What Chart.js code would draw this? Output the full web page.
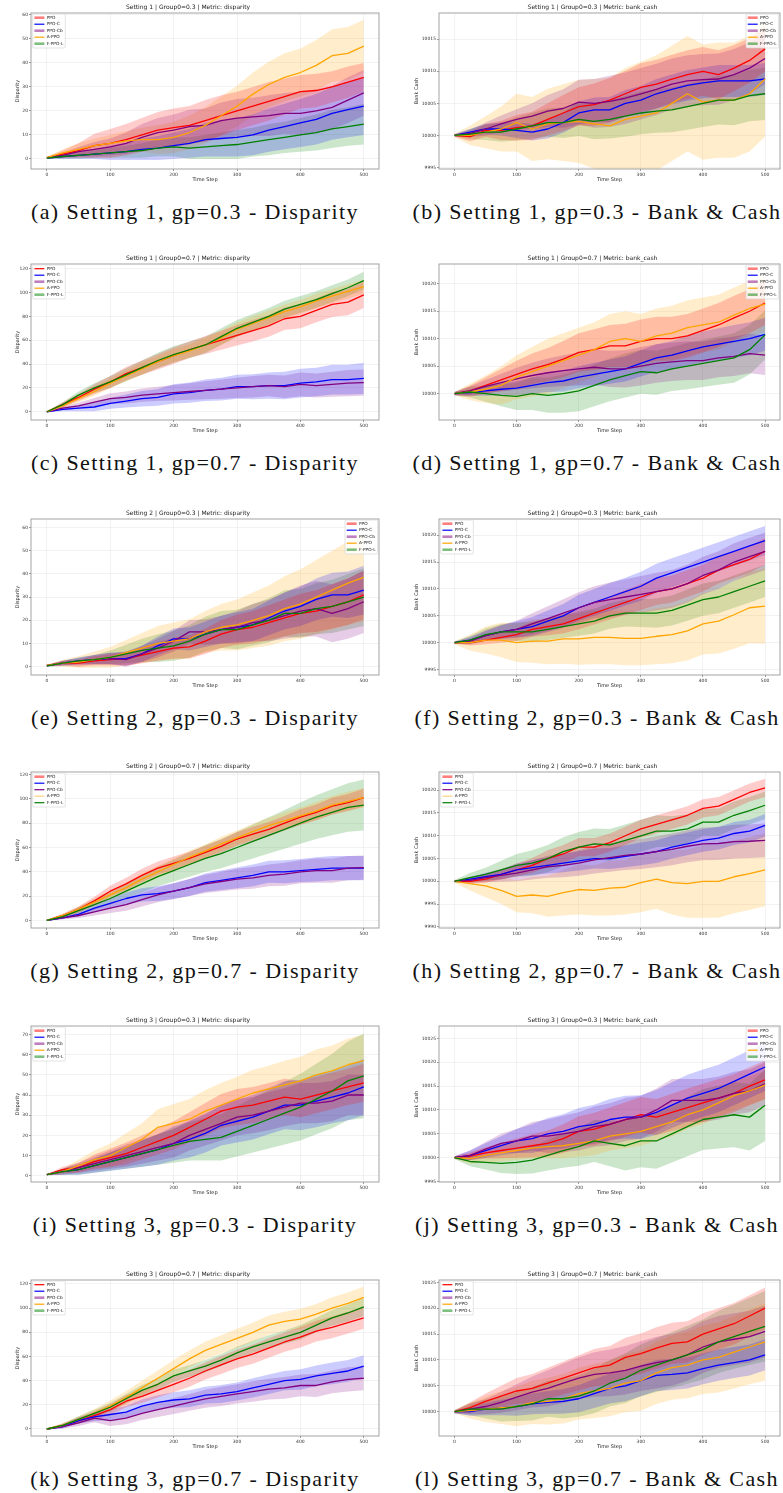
<!DOCTYPE html>
<html>
<head>
<meta charset="utf-8">
<title>Disparity and bank cash, settings 1-3</title>
<script src="https://cdn.jsdelivr.net/npm/chart.js@4.4.0/dist/chart.umd.min.js"></script>
<style>
  body { margin: 0; background: #fff; width: 783px; height: 1493px; position: relative; overflow: hidden; }
  canvas { position: absolute; }
  .cap { position: absolute; width: 390px; text-align: center; white-space: nowrap;
         font-family: "Liberation Serif", serif; font-size: 22px; line-height: 26px; letter-spacing: 1.4px; color: #111; }
</style>
</head>
<body>
<script>
const steps = [0,25,50,75,100,125,150,175,200,225,250,275,300,325,350,375,400,425,450,475,500];
const algos = ['PPO', 'PPO-C', 'PPO-Cb', 'A-PPO', 'F-PPO-L'];
const colors = ['#ff0000', '#0000ff', '#800080', '#ffa500', '#008000'];

const xTicks = [0,100,200,300,400,500];
const dispTicks60 = [0,10,20,30,40,50,60];
const dispTicks70 = [0,10,20,30,40,50,60,70];
const dispTicks120 = [0,20,40,60,80,100,120];
const cashTicksB = [9995,10000,10005,10010,10015];
const cashTicksD = [10000,10005,10010,10015,10020];
const cashTicksF = [9995,10000,10005,10010,10015,10020];
const cashTicksH = [9990,9995,10000,10005,10010,10015,10020];
const cashTicksJ = [9995,10000,10005,10010,10015,10020,10025];
const cashTicksL = [10000,10005,10010,10015,10020,10025];

// order of rows in each array: PPO, PPO-C, PPO-Cb, A-PPO, F-PPO-L
const s1g3DispMean = [
  [0.5,2,3.5,5.5,6.5,8,10,12,13,14,16,18,20,22,24,26,28,28.5,30,32,34],
  [0.3,1,1.5,2,2.5,3,4,4.5,5.5,6.5,8,8.5,9,10,12,13.5,15,16.5,19,20.5,22],
  [0.5,1.5,3,4,5,6.5,9,11,12,13.5,14,16,17,17.5,18,19,19,20,21.5,24.5,27.5],
  [0.5,2.5,4,5.5,6.5,7.5,8,8,9,11,14,18,22,27,31,34,36,39,43,44,47],
  [0.3,1,1.5,2,2.5,3,3.5,4.5,5,4.5,5,5.5,6,7,8,9,10,11,12.5,13.5,14.5]
];
const s1g3DispSd = [
  [0.3,1.5,3,5,6,6.5,7,7.5,8,8,8.5,8.5,8,8,8,7.5,7,7,6.5,6.5,6],
  [0.3,1,1.5,2,3,3.5,4.5,5,5.5,6,7,7.5,8,8.5,9,9.5,10,10.5,11,11.5,12],
  [0.3,1,2,3,3.5,4.5,5.5,6,6.5,7,7,7.5,8,8,8.5,8.5,9,9,9,9.5,9.5],
  [0.3,1.5,2.5,3,3.5,4,5,6,6.5,7,7.5,8,8.5,9,9.5,10,10,10.5,11,11,11],
  [0.2,0.8,1.2,1.5,2,2.5,3,3.5,4,4.5,5,5.5,6,6,6.5,6.5,7,7.5,8,8,8.5]
];
const s1g3CashMean = [
  [10000,9999.8,10000.8,10000.8,10001.2,10001.5,10002.5,10003.5,10004.5,10004.8,10005.5,10006.5,10007.5,10008,10008.8,10009.5,10010,10009.5,10010.5,10011.7,10013.5],
  [10000,10000.5,10001,10001,10000.8,10000.5,10001,10002,10003.5,10004,10004,10005,10005.5,10006.5,10007.2,10007.8,10008.2,10008.5,10008.5,10008.5,10008.8],
  [10000,10000.3,10001,10001.8,10002.5,10003,10003.8,10004.2,10005.2,10005,10005.3,10005.8,10006.5,10007.2,10008,10008.5,10008.7,10008.8,10009.5,10010.5,10012],
  [10000,10000,10000.5,10001,10002,10001,10001.8,10002,10002.2,10001.8,10001.5,10002.5,10003,10003.5,10005,10006.5,10005.2,10005.5,10005.5,10006.5,10008.8],
  [10000,10000.2,10000.5,10000.5,10001,10001.5,10002,10002,10002.5,10002.2,10002.5,10003,10003.5,10003.8,10004,10004.5,10005,10005.5,10005.5,10006.2,10006.5]
];
const s1g3CashSd = [
  [0.2,0.7,1,1.5,2,2.2,2.5,2.8,3,3.3,3.5,3.6,3.8,3.8,3.8,3.8,3.8,3.8,3.6,3.5,3.5],
  [0.2,0.5,0.8,1,1.2,1.3,1.5,1.6,1.8,1.9,2,2.1,2.2,2.3,2.3,2.4,2.4,2.5,2.5,2.5,2.5],
  [0.2,0.6,1,1.3,1.6,2,2.5,3,3.5,3.8,4,4,4,4,4,4,4,4,4,4,4],
  [0.3,1.5,2.5,3.5,4.5,5,5.5,6,6.5,7,7.5,8,8.5,9,9,9,9,9,9,9,9],
  [0.2,0.8,1.2,1.5,1.8,2,2.2,2.4,2.6,2.8,3,3.2,3.3,3.4,3.5,3.6,3.7,3.8,3.9,4,4.1]
];
const s1g7DispMean = [
  [0,6,12,19,25,32,37,42,47,52,56,60,64,68,72,78,80,85,90,92,98],
  [0,2,3,4,7,9,11,12,15,16,18,19,21,21,22,22,24,25,27,27,28],
  [0,3,5,8,11,12,14,15,16,17,18,19,20,21,22,21,23,22,23,24,24.5],
  [0,5,11,17,24,30,36,42,47,51,56,62,69,74,79,84,88,93,97,101,105],
  [0,6,14,20,25,31,37,43,48,52,56,63,70,75,80,86,90,94,99,104,110]
];
const s1g7DispSd = [
  [0.5,2,3,4,5,5.5,6,6.5,7,7,7.5,8,8.5,9,9,9.5,10,10,10.5,11,11],
  [0.3,1.5,2.5,3.5,4.5,5.5,6.5,7,8,8.5,9,9.5,10,10.5,11,11.5,12,12,12.5,12.5,13],
  [0.3,1.5,2.5,3.5,4.5,5,5.5,6,6.5,7,7.5,8,8.5,9,9,9.5,10,10,10.5,11,11],
  [0.5,2,3,3.5,4,4.5,5,5,5.5,5.5,6,6,6,6,6,6,6,6,6,6,6],
  [0.5,2,3,4,5,5.5,6,6.5,7,7,7,7,7,7,7,7,7,7,7,7,7.5]
];
const s1g7CashMean = [
  [10000,10000.5,10001.5,10002.5,10003.5,10004.5,10005.3,10006.3,10007.5,10008,10008.7,10008.7,10009.5,10010,10010,10010.5,10011.5,10012.5,10013.8,10015,10016.5],
  [10000,10000.2,10000.5,10000.8,10001,10001.5,10002,10002.3,10003,10003.5,10004,10004.5,10005.5,10006.5,10007,10007.8,10008.5,10009,10009.5,10010,10010.8],
  [10000,10000.5,10001.3,10002,10002.7,10003.3,10003.8,10004.2,10004.5,10004.8,10004.5,10004.5,10005,10005.5,10005.8,10006,10006,10006.5,10006.8,10007.3,10007],
  [10000,10000.3,10000.8,10001.5,10003,10004,10005,10006,10007,10008,10009.5,10010,10009.5,10010.5,10011,10012,10012.5,10013,10014.3,10015.5,10016.3],
  [10000,10000.3,10000,9999.7,9999.5,10000,9999.7,10000,10000.5,10001.5,10002.5,10003.3,10004,10003.8,10004.5,10005,10005.5,10006,10006.5,10008,10010.7]
];
const s1g7CashSd = [
  [0.3,1,1.5,2,2.5,2.8,3,3.3,3.5,3.7,3.8,4,4,4,4,4,4,4,4,4,4],
  [0.3,0.6,0.9,1.1,1.3,1.5,1.7,1.9,2,2.1,2.2,2.3,2.4,2.5,2.6,2.7,2.8,2.9,3,3,3],
  [0.3,0.8,1.2,1.6,2,2.3,2.6,2.8,3,3.2,3.3,3.4,3.5,3.5,3.5,3.5,3.5,3.5,3.6,3.6,3.6],
  [0.3,1.5,2.5,3.5,4,4.5,5,5,5,5,5,5,5,5,5,5,5,5,5,5,5],
  [0.3,1,1.5,2,2.5,3,3.2,3.5,3.7,3.8,3.9,4,4,4,4,4.2,4.3,4.4,4.5,4.5,4.5]
];
const s2g3DispMean = [
  [0.5,1.5,1.5,2.5,3,3.5,5,6.5,8,8.5,11,14,16,17,19,21,23,24,26,28,31],
  [0.3,1.5,2.5,3,3.5,3.5,5.5,9,12,12,14,16,17,18,21,24,26,29,31,31,33],
  [0.5,1.5,2,3,3.5,3,5.5,8,11,15,15,16,17,19,20,22,24,25,23,25,28],
  [0.5,1.5,2,3,4,6,8,10,11,12,15,17,18,20,22,25,27,30,33,36,38.5],
  [0.3,1.5,2.5,3,4,5.5,7,8,9,11,14,16,16,18,20,23,23,25,26,28,30]
];
const s2g3DispSd = [
  [0.3,1,1.5,2,2.5,3,3.5,4,4.5,5,5.5,6,6.5,7,7.5,8,8.5,9,9.5,10,10.5],
  [0.3,1,1.5,2,2.5,3,3.5,4,4.5,5,5.5,6,6.5,7,7.5,8,8.5,9,9.5,10,10.5],
  [0.3,1,1.5,2,2.5,3,3.5,4,4.5,5,5.5,6,7,8,9,10,11,12,12.5,13,13.5],
  [0.3,1.5,2.5,3.5,4.5,5.5,6.5,7.5,8,8.5,9,10,11,12,13,14,15,16,17,18,19],
  [0.3,1,1.5,2,3,4,5,6,6.5,7,7.5,8,8.5,9,9.5,10,10.5,11,11.5,12,12.5]
];
const s2g3CashMean = [
  [10000,10000,10000.5,10001,10001.5,10002.5,10003,10003.5,10004.5,10005.5,10006.5,10007.5,10008.5,10009.5,10010,10011,10012,10013.5,10014.5,10015.5,10017],
  [10000,10000.5,10001.3,10002,10002.5,10003,10004,10005,10006.5,10007.5,10008.5,10009.5,10010.5,10012,10013,10014,10015,10016,10017,10018,10019],
  [10000,10000.3,10001.3,10002,10002.5,10003.5,10004.5,10005.5,10006.5,10007.5,10008,10008.5,10009,10009.5,10010,10011,10012.5,10013.5,10015,10016,10017],
  [10000,10000,10000.5,10000.5,10000,10000.3,10000.3,10000.7,10000.7,10001,10001,10000.8,10000.8,10001.2,10001.5,10002.2,10003.5,10004,10005.2,10006.5,10006.8],
  [10000,10000.5,10001.5,10002,10002,10002,10002.5,10003,10003.5,10004,10005,10005.5,10005.5,10005.5,10006,10007,10008,10008.5,10009.5,10010.5,10011.5]
];
const s2g3CashSd = [
  [0.2,0.5,0.8,1,1.2,1.4,1.6,1.8,2,2.1,2.2,2.3,2.4,2.5,2.5,2.5,2.5,2.5,2.5,2.5,2.5],
  [0.2,0.6,0.9,1.2,1.5,1.8,2,2.2,2.4,2.5,2.6,2.6,2.7,2.7,2.7,2.7,2.7,2.7,2.7,2.7,2.7],
  [0.2,0.6,1,1.3,1.6,2,2.3,2.6,2.9,3,3.2,3.3,3.4,3.5,3.5,3.5,3.5,3.5,3.5,3.5,3.5],
  [0.3,1.5,2.5,3.2,3.6,4,4.3,4.6,4.8,5,5,5,5,5.2,5.3,5.5,5.7,6,6.3,6.6,7],
  [0.2,0.8,1.2,1.5,1.7,1.9,2,2.1,2.2,2.3,2.4,2.5,2.6,2.7,2.8,2.9,3,3,3,3,3]
];
const s2g7DispMean = [
  [0,4,9,16,24,30,37,43,47,51,56,61,67,71,75,80,85,89,94,97,101],
  [0,2,5,10,14,18,21,22,24,27,31,33,35,37,40,40,41,42,43,43,43],
  [0,2,4,7,10,13,17,21,24,27,30,32,34,35,37,38,40,41,41,43,43.5],
  [0,4,9,15,21,27,34,40,46,52,57,63,68,73,78,82,86,90,95,98,101],
  [0,3,8,13,18,24,30,36,41,46,51,55,60,65,70,75,80,85,89,93,95]
];
const s2g7DispSd = [
  [0.3,1.5,2.5,3.5,4.5,5,5.5,5.5,5.5,5.5,5.5,5.5,5.5,6,6,6,6.5,6.5,7,7,7.5],
  [0.3,1,2,3,4,5,5.5,6,6.5,7,7.5,8,8.5,9,9,9.5,9.5,10,10,10,10],
  [0.3,1,2,3,4,5,5.5,6,6.5,7,7.5,8,8.5,9,9,9.5,9.5,10,10,10,10],
  [0.3,1.5,2.5,3,3.5,4,4.5,5,5,5.5,5.5,6,6,6.5,6.5,7,7,7.5,7.5,8,8],
  [0.3,1.5,3,4,5,6,7,8,9,10,11,12,13,14,15,16,17,18,19,20,21]
];
const s2g7CashMean = [
  [10000,10000,10000.5,10001.5,10002.5,10003.5,10005,10006,10007.5,10007.5,10008.5,10010,10011.5,10012.5,10013.5,10014.5,10016,10016.5,10018,10019.5,10020.5],
  [10000,10000.5,10001,10001.5,10002.5,10003,10003.5,10004,10004.5,10005,10005,10005.5,10006,10006.5,10007.5,10008.2,10009,10009.5,10010.5,10011,10012.3],
  [10000,10000.2,10000.8,10001.3,10001.8,10002.5,10003.2,10003.5,10004,10004.7,10005.2,10005.7,10006,10006.5,10007,10007.7,10008.2,10008.3,10008.7,10008.8,10009],
  [10000,9999.5,9999,9998,9996.7,9997,9996.7,9997.5,9998.2,9998,9998.5,9998.7,9999.7,10000.5,9999.7,9999.5,10000,10000,10001,10001.7,10002.5],
  [10000,10000.8,10001.5,10002.5,10003.5,10004,10005,10006.5,10007.5,10008.2,10008,10009,10010,10011,10011,10011.5,10013,10013,10014.5,10015.5,10016.7]
];
const s2g7CashSd = [
  [0.2,0.5,0.8,1.1,1.4,1.6,1.8,2,2,2,2,2,2,2,2,2,2,2,2,2,2],
  [0.2,0.5,0.8,1.1,1.4,1.6,1.8,2,2.1,2.2,2.3,2.4,2.5,2.5,2.5,2.5,2.5,2.5,2.5,2.5,2.5],
  [0.2,0.6,1,1.4,1.8,2.1,2.4,2.6,2.8,3,3.1,3.2,3.3,3.4,3.5,3.5,3.6,3.6,3.7,3.7,3.7],
  [0.3,1.5,2.5,3,3.5,4,4.5,5,5.5,5.5,6,6,6.5,6.5,7,7.5,8,8,8,8,8],
  [0.3,1,1.5,2,2.5,2.8,3,3.2,3.3,3.4,3.5,3.5,3.5,3.5,3.3,3.2,3,3,3,3,3]
];
const s3g3DispMean = [
  [0.5,3,4,7,9,11,14,17,20,24,28,32,34,35,37,39,38,40,42,44,46],
  [0.5,2,3,5,7,9,11,13,16,18,21,25,27,29,32,35,35,37,39,41,44],
  [0.5,2,4,6,8,10,12,14,16,20,23,26,29,30,32,34,36,36,37,40,40],
  [0.5,2,5,8,10,14,18,24,26,28,32,35,38,41,43,45,47,50,52,55,57],
  [0.5,2,3,5,7,9,11,13,15,17,18,19,22,25,28,31,34,38,42,47,49.5]
];
const s3g3DispSd = [
  [0.3,1.5,2.5,3.5,4.5,5.5,6,6.5,7,7.5,8,8.5,9,9,9,9,9,9,9,9,9.5],
  [0.3,1.5,2.5,3.5,4.5,5.5,6.5,7.5,8.5,9,9.5,10,10.5,11,11.5,12,12.5,13,13,13.5,14],
  [0.3,1.5,2.5,3.5,4.5,5.5,6,6.5,7,7.5,8,8.5,9,9,9.5,9.5,10,10,10,10,10],
  [0.3,1.5,3,4.5,6,7,8,9,9.5,10,10.5,11,11,11.5,11.5,12,12,12.5,12.5,13,13],
  [0.3,1.5,2.5,3.5,4.5,5.5,6.5,7.5,8.5,9.5,10.5,11.5,12.5,13.5,14.5,15.5,16.5,17.5,18.5,19.5,21]
];
const s3g3CashMean = [
  [10000,10000.3,10001,10001.5,10002,10002.5,10003,10004,10005.5,10006,10007,10008,10009,10008.5,10009.5,10010.5,10011.5,10012.5,10013.5,10015,10016.3],
  [10000,10000.5,10001.5,10002.5,10003.5,10004,10005,10005.5,10006.5,10007,10008,10008.5,10008.5,10009.5,10011,10012.5,10013.5,10014.5,10016,10017.5,10019],
  [10000,10000.5,10001.8,10003,10003.5,10004.5,10004.5,10005,10005.5,10006.5,10007,10008,10008.5,10010,10012,10012,10012,10012.5,10013.5,10014,10015.5],
  [10000,9999.8,10000.5,10001,10001.5,10002,10002.3,10002.5,10003,10003.5,10004.5,10005,10005.5,10006.5,10007.5,10009,10010,10011.5,10013,10014,10015.2],
  [10000,9999.2,9999,9998.8,9999,9999.5,10000.5,10001.5,10002.3,10003.5,10003,10002.5,10003.5,10003.5,10005,10006.5,10008,10008.5,10009,10008.5,10011]
];
const s3g3CashSd = [
  [0.3,0.8,1.2,1.6,2,2.4,2.7,3,3.2,3.4,3.5,3.6,3.7,3.8,3.9,4,4,4,4,4,4],
  [0.3,1,1.5,2,2.5,3,3.3,3.6,3.9,4.1,4.3,4.5,4.6,4.7,4.8,4.9,5,5,5,5,5],
  [0.3,1,1.5,2,2.5,3,3.5,3.8,4,4.2,4.4,4.5,4.5,4.5,4.5,4.5,4.5,4.5,4.5,4.5,4.5],
  [0.3,1,1.5,1.8,2,2.2,2.4,2.6,2.8,3,3,3,3,3,3,3,3,3,3,3,3],
  [0.3,1,1.5,2,2.4,2.8,3.2,3.6,4,4.4,4.8,5.2,5.5,5.8,6,6.2,6.4,6.6,6.8,7,7.5]
];
const s3g7DispMean = [
  [0,3,7,11,16,23,27,32,37,42,48,53,58,62,67,72,76,81,84,88,92],
  [0,2,7,10,12,14,19,22,24,25,28,29,31,34,37,40,41,44,46,48,52],
  [0,2,5,9,7,9,13,16,19,22,25,27,29,31,33,34,36,36,39,41,42],
  [0,3,8,13,19,26,34,42,50,58,65,70,75,80,86,89,91,95,100,104,109],
  [0,3,8,13,18,25,32,37,44,48,52,57,63,68,72,76,80,86,92,96,101]
];
const s3g7DispSd = [
  [0.5,1.5,2.5,3.5,4.5,5,5.5,6,6.5,7,7,7.5,7.5,8,8,8,8.5,8.5,9,9,9],
  [0.5,1.5,2.5,3.5,4.5,5,5.5,6,6.5,7,7,7.5,7.5,8,8,8,8.5,8.5,9,9,9],
  [0.5,1.5,2.5,3.5,4.5,5,5.5,6,6.5,7,7.5,8,8,8.5,8.5,9,9,9.5,9.5,10,10],
  [0.5,1.5,2.5,3.5,4.5,5.5,6,6.5,7,7,7.5,7.5,8,8,8,8,8.5,8.5,9,9,9],
  [0.5,1.5,2.5,3,3.5,4,4.5,5,5,5,5,5,5,5,5.5,5.5,6,6,6.5,7,7.5]
];
const s3g7CashMean = [
  [10000,10000.8,10002,10003,10004,10004.5,10005.5,10006.5,10007.5,10008.5,10009,10010.5,10011.2,10012.3,10013.2,10013.5,10015,10016,10017,10018.5,10020],
  [10000,10000,10000.5,10000.8,10001,10001.5,10001.8,10002,10002.5,10003.5,10004.5,10005,10006,10007,10007.2,10007.5,10008.3,10009,10009.5,10010,10011],
  [10000,10000.5,10001,10001.8,10002.8,10003.8,10004.5,10005.5,10006.5,10007.2,10007.5,10008,10008.8,10009.5,10010,10011,10012.5,10013.5,10014,10014.5,10015.5],
  [10000,10000.2,10000.5,10000.8,10001,10001.8,10002,10002.5,10003.5,10004,10004.5,10005.5,10006,10007.5,10008.5,10009,10010,10010.5,10011.5,10012.5,10013.5],
  [10000,10000.5,10000.5,10000.5,10001,10001.5,10002.5,10002.5,10003,10004,10005.5,10006.5,10008,10009,10010,10011,10012,10013.5,10014.5,10015.5,10016.5]
];
const s3g7CashSd = [
  [0.3,1,1.5,2,2.5,2.8,3,3.2,3.4,3.6,3.7,3.8,3.9,4,4,4,4,4,4,4,4],
  [0.3,0.8,1.2,1.5,1.8,2,2.2,2.4,2.6,2.8,2.9,3,3,3,3,3,3,3,3,3,3],
  [0.3,1,1.5,2,2.5,3,3.5,3.8,4,4.3,4.5,4.7,4.8,5,5,5,5,5,5,5,5],
  [0.3,1.5,2.5,3.2,3.8,4.2,4.5,4.8,5,5.2,5.4,5.6,5.8,6,6.2,6.4,6.6,6.8,7,7.2,7.5],
  [0.3,1.2,1.8,2.4,2.8,3.2,3.5,3.8,4,4.3,4.5,4.8,5,5.2,5.4,5.6,5.8,6,6.2,6.5,6.8]
];

// ---- panel list (row-major, left = disparity, right = bank cash) ----
// leg: legend corner; sty: legend handle per algo (L = wide faded, n = normal, l = faded thin)
const panels = [
  {id:'a', set:1, g:'0.3', m:'disparity', mean:s1g3DispMean, sd:s1g3DispSd, ylim:[-4.2,60.8], yt:dispTicks60, leg:'left', sty:'LnLnL'},
  {id:'b', set:1, g:'0.3', m:'bank_cash', mean:s1g3CashMean, sd:s1g3CashSd, ylim:[9994.76,10019.1], yt:cashTicksB, leg:'right', sty:'LnLnL'},
  {id:'c', set:1, g:'0.7', m:'disparity', mean:s1g7DispMean, sd:s1g7DispSd, ylim:[-6.9,123.9], yt:dispTicks120, leg:'left', sty:'nnLnL'},
  {id:'d', set:1, g:'0.7', m:'bank_cash', mean:s1g7CashMean, sd:s1g7CashSd, ylim:[9995.2,10023.6], yt:cashTicksD, leg:'right', sty:'LnLnL'},
  {id:'e', set:2, g:'0.3', m:'disparity', mean:s2g3DispMean, sd:s2g3DispSd, ylim:[-3.6,63.7], yt:dispTicks60, leg:'right', sty:'LnLnL'},
  {id:'f', set:2, g:'0.3', m:'bank_cash', mean:s2g3CashMean, sd:s2g3CashSd, ylim:[9994.0,10023.0], yt:cashTicksF, leg:'left', sty:'LnLnL'},
  {id:'g', set:2, g:'0.7', m:'disparity', mean:s2g7DispMean, sd:s2g7DispSd, ylim:[-6.3,122.2], yt:dispTicks120, leg:'left', sty:'Lnnln'},
  {id:'h', set:2, g:'0.7', m:'bank_cash', mean:s2g7CashMean, sd:s2g7CashSd, ylim:[9989.75,10024.0], yt:cashTicksH, leg:'left', sty:'Lnnln'},
  {id:'i', set:3, g:'0.3', m:'disparity', mean:s3g3DispMean, sd:s3g3DispSd, ylim:[-3.1,74.2], yt:dispTicks70, leg:'left', sty:'LnLnL'},
  {id:'j', set:3, g:'0.3', m:'bank_cash', mean:s3g3CashMean, sd:s3g3CashSd, ylim:[9994.9,10027.6], yt:cashTicksJ, leg:'right', sty:'LnLnL'},
  {id:'k', set:3, g:'0.7', m:'disparity', mean:s3g7DispMean, sd:s3g7DispSd, ylim:[-5.8,123.3], yt:dispTicks120, leg:'left', sty:'nnLnL'},
  {id:'l', set:3, g:'0.7', m:'bank_cash', mean:s3g7CashMean, sd:s3g7CashSd, ylim:[9995.3,10025.45], yt:cashTicksL, leg:'left', sty:'nnLnL'}
];

// ---- layout ----
const AXW = 34, TH = 11, XH = 20, RP = 3;
const rowTop = [13, 264, 519, 772, 1026, 1280];
const plotH = 156;
const cols = [{l: 31, r: 379, ytPad: 18, capLeft: 0}, {l: 439, r: 780, ytPad: 9, capLeft: 402}];
const FONT = 'DejaVu Sans';

function rgba(hex, a) {
  const n = parseInt(hex.slice(1), 16);
  return `rgba(${n >> 16},${(n >> 8) & 255},${n & 255},${a})`;
}

// spine box around the plot area
const frame = {
  id: 'frame',
  afterDatasetsDraw(chart) {
    const {ctx, chartArea: ca} = chart;
    ctx.save();
    ctx.strokeStyle = '#9a9a9a';
    ctx.lineWidth = 0.9;
    ctx.strokeRect(ca.left, ca.top, ca.right - ca.left, ca.bottom - ca.top);
    ctx.restore();
  }
};

// matplotlib-like legend box inside the axes
const mplLegend = {
  id: 'mplLegend',
  afterDraw(chart, args, opts) {
    const {ctx, chartArea: ca} = chart;
    const items = chart.data.datasets.filter(d => d.isMean);
    const w = 32.6, h = 34, pitch = 6.5;
    const x0 = opts.pos === 'right' ? ca.right - 1.4 - w : ca.left + 1.7;
    const y0 = ca.top + 1;
    ctx.save();
    ctx.beginPath();
    ctx.roundRect(x0, y0, w, h, 1.2);
    ctx.fillStyle = 'rgba(255,255,255,0.8)';
    ctx.fill();
    ctx.strokeStyle = '#d0d0d0';
    ctx.lineWidth = 0.6;
    ctx.stroke();
    ctx.font = `4.3px "${FONT}"`;
    ctx.textBaseline = 'middle';
    items.forEach((d, i) => {
      const y = y0 + 3.7 + i * pitch;
      const s = opts.sty[i];
      ctx.strokeStyle = s === 'n' ? d.borderColor : rgba(d.borderColor, 0.5);
      ctx.lineWidth = s === 'L' ? 2.6 : 1.2;
      ctx.beginPath();
      ctx.moveTo(x0 + 1.7, y);
      ctx.lineTo(x0 + 11.7, y);
      ctx.stroke();
      ctx.fillStyle = '#222';
      ctx.fillText(d.label, x0 + 14, y);
    });
    ctx.restore();
  }
};

const tickFont = {family: FONT, size: 4.5};
const gridOpts = {color: '#e9e9e9', lineWidth: 0.6, tickLength: 2, tickColor: '#555', tickWidth: 0.6};

panels.forEach((p, k) => {
  const row = Math.floor(k / 2), col = k % 2;
  const c = cols[col];
  const w = c.r - c.l + AXW + RP, h = plotH + TH + XH;

  const cv = document.createElement('canvas');
  cv.width = w; cv.height = h;
  cv.style.left = (c.l - AXW) + 'px';
  cv.style.top = (rowTop[row] - TH) + 'px';
  cv.style.width = w + 'px';
  cv.style.height = h + 'px';
  document.body.appendChild(cv);

  const cap = document.createElement('div');
  cap.className = 'cap';
  cap.style.left = c.capLeft + 'px';
  cap.style.top = (rowTop[row] + 199 - 13) + 'px';
  cap.textContent = `(${p.id}) Setting ${p.set}, gp=${p.g} - ${p.m === 'disparity' ? 'Disparity' : 'Bank & Cash'}`;
  document.body.appendChild(cap);

  const datasets = [];
  algos.forEach((name, i) => {
    const m = p.mean[i], s = p.sd[i];
    datasets.push({label: name + ' +sd', data: steps.map((x, j) => ({x, y: m[j] + s[j]})),
      fill: '+1', backgroundColor: rgba(colors[i], 0.2), borderWidth: 0, pointRadius: 0, order: 10});
    datasets.push({label: name + ' -sd', data: steps.map((x, j) => ({x, y: m[j] - s[j]})),
      fill: false, borderWidth: 0, pointRadius: 0, order: 10});
  });
  algos.forEach((name, i) => {
    datasets.push({label: name, isMean: true, data: steps.map((x, j) => ({x, y: p.mean[i][j]})),
      borderColor: colors[i], borderWidth: 1.3, pointRadius: 0, fill: false, tension: 0,
      borderJoinStyle: 'round', order: 4 - i});
  });

  new Chart(cv, {
    type: 'line',
    data: {datasets},
    plugins: [frame, mplLegend],
    options: {
      responsive: false,
      animation: false,
      events: [],
      layout: {padding: {left: 0, right: RP, top: 0, bottom: 0}},
      plugins: {
        legend: {display: false},
        tooltip: {enabled: false},
        title: {display: true, text: `Setting ${p.set} | Group0=${p.g} | Metric: ${p.m}`,
          font: {family: FONT, size: 6, weight: 'normal'}, color: '#222', padding: {top: 1.8, bottom: 2}},
        mplLegend: {pos: p.leg, sty: p.sty}
      },
      scales: {
        x: {
          type: 'linear', min: -25, max: 524,
          afterFit: s => { s.height = XH; },
          afterBuildTicks: s => { s.ticks = xTicks.map(v => ({value: v})); },
          ticks: {font: tickFont, color: '#333', padding: 1, maxRotation: 0, autoSkip: false, callback: v => String(v)},
          grid: gridOpts,
          border: {display: false},
          title: {display: true, text: 'Time Step', color: '#222', font: {family: FONT, size: 5}, padding: {top: 0, bottom: 6}}
        },
        y: {
          type: 'linear', min: p.ylim[0], max: p.ylim[1],
          afterFit: s => { s.width = AXW; },
          afterBuildTicks: s => { s.ticks = p.yt.map(v => ({value: v})); },
          ticks: {font: tickFont, color: '#333', padding: 1, autoSkip: false, callback: v => String(v)},
          grid: gridOpts,
          border: {display: false},
          title: {display: true, text: p.m === 'disparity' ? 'Disparity' : 'Bank Cash', color: '#222',
            font: {family: FONT, size: 5}, padding: {top: c.ytPad, bottom: 0}}
        }
      }
    }
  });
});
</script>
</body>
</html>
